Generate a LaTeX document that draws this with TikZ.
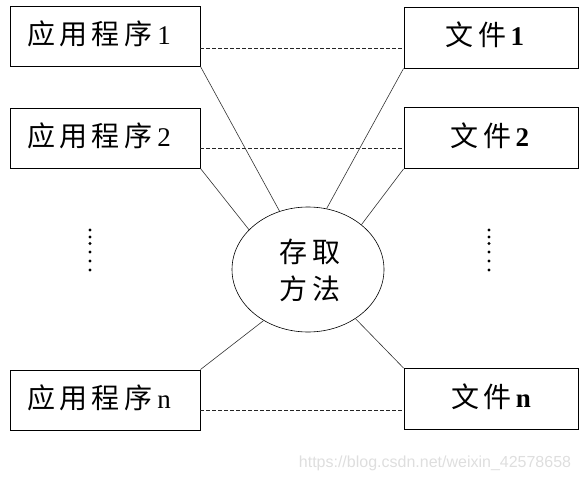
\documentclass[tikz,border=0pt]{standalone}
\usepackage{fontspec}
\setmainfont{Liberation Serif}
\newfontfamily\cjk[LetterSpace=16]{Noto Sans CJK SC}
\newfontfamily\wmfont{Liberation Sans}
\usetikzlibrary{shapes.geometric}
\tikzset{
  box/.style={draw=black, line width=0.9pt, rectangle, inner sep=0pt},
  lbox/.style={box, minimum width=190pt, minimum height=60pt},
  rbox/.style={box, minimum width=174pt, minimum height=61pt},
  label/.style={font=\fontsize{27}{30}\selectfont, inner sep=0pt},
  link/.style={line width=0.6pt, black!80},
  dlink/.style={line width=0.7pt, black!85, dash pattern=on 4pt off 2pt},
  dotmark/.style={fill=black},
}
\newcommand{\cjt}[1]{{\fontsize{28}{30}\selectfont\cjk #1}}
\begin{document}
\begin{tikzpicture}[x=1pt,y=-1pt]
\useasboundingbox (0,0) rectangle (580,481);
% left boxes
\node[lbox] (l1) at (105,36) {};
\node[lbox] (l2) at (105,138) {};
\node[lbox] (ln) at (105,400) {};
\node[label] (l1t) at (99,34) {\cjt{应用程序}\hspace{5pt}1};
\node[label] (l2t) at (99,136) {\cjt{应用程序}\hspace{5pt}2};
\node[label] (lnt) at (99,398) {\cjt{应用程序}\hspace{5pt}n};
% right boxes
\node[rbox] (r1) at (491,37.5) {};
\node[rbox] (r2) at (491,138) {};
\node[rbox] (rn) at (491,399) {};
\node[label] (r1t) at (485,35) {\cjt{文件}\textbf{1}};
\node[label] (r2t) at (490,136) {\cjt{文件}\textbf{2}};
\node[label] (rnt) at (491,397) {\cjt{文件}\textbf{n}};
% ellipse
\node[draw=black, line width=0.6pt, ellipse, minimum width=152pt, minimum height=125pt, inner sep=0pt] (e) at (308,269.5) {};
\node[align=center, inner sep=0pt, font=\fontsize{28}{37}\selectfont\cjk] (et) at (310,270) {存取\\方法};
% dashed links
\draw[dlink] (l1.east |- 0,48) -- (r1.west |- 0,48);
\draw[dlink] (l2.east |- 0,148) -- (r2.west |- 0,148);
\draw[dlink] (ln.east |- 0,410) -- (rn.west |- 0,410);
% solid links
\draw[link] (l1.south east) -- (e.116);
\draw[link] (l2.south east) -- (e.146);
\draw[link] (r1.south west) -- (e.73);
\draw[link] (r2.south west) -- (e.40);
\draw[link] (ln.north east) -- (e.229);
\draw[link] (rn.north west) -- (e.314);
% vertical dots
\foreach \yy in {230,237,243.5,252,261,270} {
  \fill[dotmark] (90,\yy) circle (1.7pt);
  \fill[dotmark] (489,\yy) circle (1.7pt);
}
% watermark
\node[text=black!13, font=\fontsize{16}{18}\selectfont\wmfont, anchor=center] (wm) at (435,463) {https://blog.csdn.net/weixin\_42578658};
\end{tikzpicture}
\end{document}
